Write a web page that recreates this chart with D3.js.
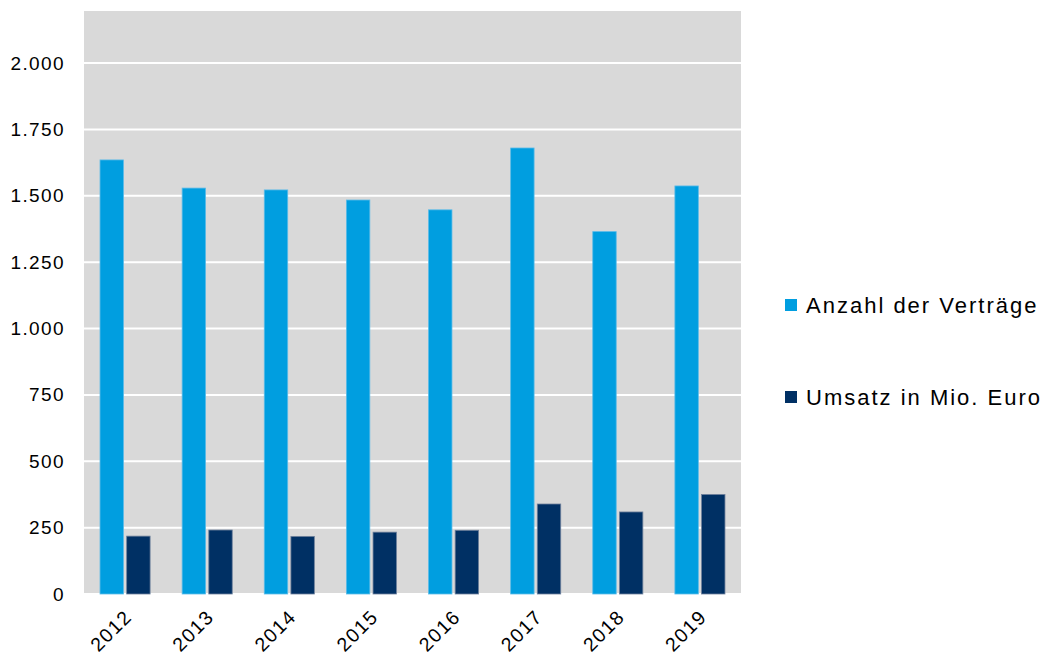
<!DOCTYPE html>
<html>
<head>
<meta charset="utf-8">
<script src="https://cdn.jsdelivr.net/npm/d3@7"></script>
<style>
  body { margin: 0; background: #fff; }
  text { font-family: "Liberation Sans", Arial, sans-serif; fill: #000; }
</style>
</head>
<body>
<div class="chart"></div>
<script>
var years = ["2012", "2013", "2014", "2015", "2016", "2017", "2018", "2019"];
var vertraege = [1635, 1529, 1522, 1484, 1447, 1680, 1365, 1537];
var umsatz = [218, 241, 217, 233, 240, 339, 309, 375];
var seriesNames = ["Anzahl der Verträge", "Umsatz in Mio. Euro"];
var yTicks = [0, 250, 500, 750, 1000, 1250, 1500, 1750, 2000];

var margin = {top: 11, right: 310, bottom: 63, left: 84},
    width = 1051 - margin.left - margin.right,
    height = 657 - margin.top - margin.bottom;

var colors = ["#009ee0", "#003064"];
var strokes = ["#5bbbe8", "#6f819c"];

var svg = d3.select(".chart")
    .append("svg")
    .attr("width", 1051)
    .attr("height", 657)
    .append("g")
    .attr("transform", "translate(" + margin.left + "," + margin.top + ")");

var x = d3.scaleBand()
    .domain(years)
    .range([0, width]);

var xInner = d3.scaleBand()
    .domain([0, 1])
    .range([16 / 82 * x.bandwidth(), (1 - 16 / 82) * x.bandwidth()])
    .paddingInner(6 / 50);

var y = d3.scaleLinear()
    .domain([0, 2196])
    .range([height, 0]);

// plot background
svg.append("rect")
    .attr("width", width)
    .attr("height", height + 1)
    .attr("fill", "#d9d9d9");

// gridlines
svg.append("g")
    .selectAll("line")
    .data(yTicks)
    .enter()
    .append("line")
    .attr("x1", 0)
    .attr("x2", width)
    .attr("y1", d => y(d))
    .attr("y2", d => y(d))
    .attr("stroke", "#fff")
    .attr("stroke-width", 2);

// y axis labels
var yAxis = d3.axisLeft(y)
    .tickValues(yTicks)
    .tickSize(0)
    .tickPadding(19)
    .tickFormat(d => d3.format(",")(d).replace(/,/g, "."));

svg.append("g")
    .attr("class", "y-axis")
    .call(yAxis)
    .call(g => g.select(".domain").remove())
    .selectAll("text")
    .style("font-size", "19px")
    .style("letter-spacing", "1.4px");

// x axis labels
var xAxis = d3.axisBottom(x).tickSize(0).tickPadding(0);

svg.append("g")
    .attr("class", "x-axis")
    .attr("transform", "translate(0," + height + ")")
    .call(xAxis)
    .call(g => g.select(".domain").remove())
    .selectAll("text")
    .style("font-size", "19.5px")
    .style("letter-spacing", "1.4px")
    .style("text-anchor", "end")
    .attr("dy", null)
    .attr("y", 0)
    .attr("transform", "translate(8,24) rotate(-45)");

// bars
var series = [vertraege, umsatz];
series.forEach(function(values, s) {
    svg.append("g")
        .selectAll("rect")
        .data(values)
        .enter()
        .append("rect")
        .attr("x", (d, i) => x(years[i]) + xInner(s))
        .attr("width", xInner.bandwidth())
        .attr("y", d => y(d))
        .attr("height", d => y(0) - y(d))
        .attr("fill", colors[s])
        .attr("stroke", strokes[s])
        .attr("stroke-width", 0.8);
});

// legend
var legend = svg.append("g")
    .attr("transform", "translate(" + (width + 44) + ",0)");

var items = legend.selectAll("g")
    .data(seriesNames)
    .enter()
    .append("g")
    .attr("transform", (d, i) => "translate(0," + (294 + i * 92) + ")");

items.append("rect")
    .attr("x", 0)
    .attr("y", -6)
    .attr("width", 12)
    .attr("height", 12)
    .attr("fill", (d, i) => colors[i]);

items.append("text")
    .attr("x", 21)
    .attr("y", 0)
    .attr("dy", "0.35em")
    .style("font-size", "22px")
    .style("letter-spacing", "2px")
    .text(d => d);
</script>
</body>
</html>
